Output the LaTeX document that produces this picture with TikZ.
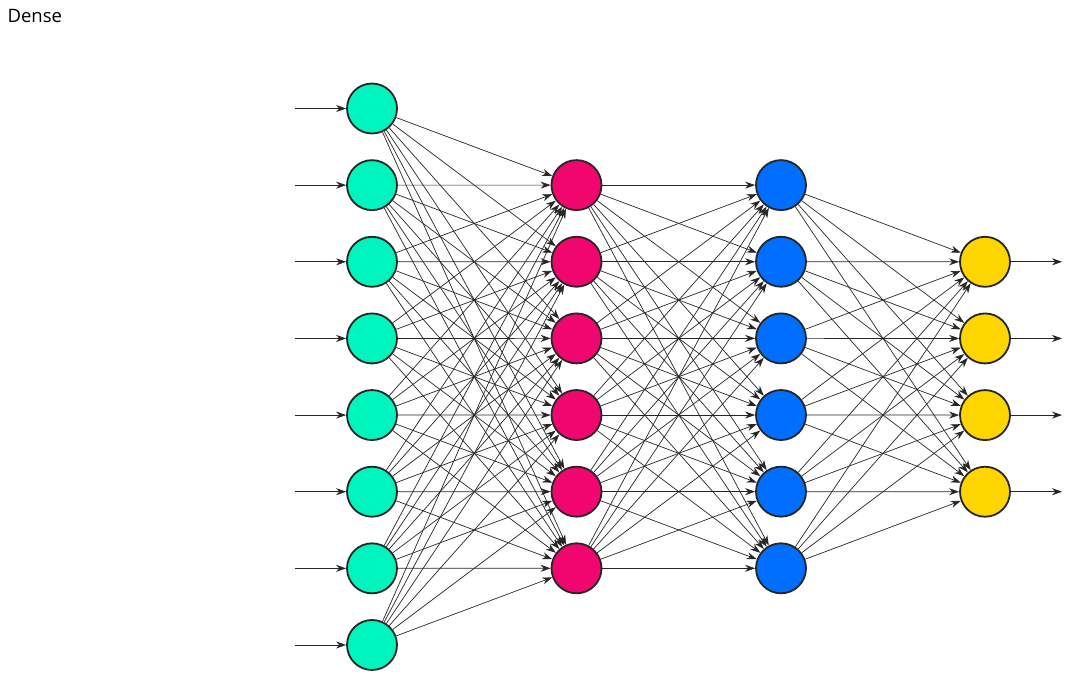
\documentclass[tikz,border=0pt]{standalone}
\usepackage{fontspec}
\setmainfont{Open Sans}
\usepackage{xcolor}
\usetikzlibrary{arrows.meta}

\definecolor{inputc}{HTML}{00F5BE}
\definecolor{hidac}{HTML}{F0066E}
\definecolor{hidbc}{HTML}{006EFF}
\definecolor{outc}{HTML}{FFD500}

\begin{document}
\begin{tikzpicture}[
  x=1pt, y=-1pt,
  n/.style={circle, draw=black!85, line width=1.8pt, minimum size=50pt, inner sep=0pt},
  arr/.style={-{Stealth[length=10pt,width=7pt]}, line width=0.7pt, black!85}
]
\useasboundingbox (0,0) rectangle (1081,678);
\node[anchor=base west, font=\fontsize{18.5}{20}\selectfont] (title) at (4,22) {Dense};

% layers
\foreach \k in {1,...,8}
  \node[n, fill=inputc] (i\k) at (372,{108.5+76.64*(\k-1)}) {};
\foreach \k in {1,...,6}
  \node[n, fill=hidac] (a\k) at (576.5,{185.1+76.64*(\k-1)}) {};
\foreach \k in {1,...,6}
  \node[n, fill=hidbc] (b\k) at (781,{185.1+76.64*(\k-1)}) {};
\foreach \k in {1,...,4}
  \node[n, fill=outc] (o\k) at (985,{261.8+76.64*(\k-1)}) {};

% in / out arrows
\foreach \k in {1,...,8}{
  \coordinate (s\k) at (295,{108.5+76.64*(\k-1)});
  \draw[arr] (s\k) -- (i\k);
}
\foreach \k in {1,...,4}{
  \coordinate (e\k) at (1062,{261.8+76.64*(\k-1)});
  \draw[arr] (o\k) -- (e\k);
}

% dense connections
\foreach \p in {1,...,8}
  \foreach \q in {1,...,6}
    \draw[arr] (i\p) -- (a\q);
\foreach \p in {1,...,6}
  \foreach \q in {1,...,6}
    \draw[arr] (a\p) -- (b\q);
\foreach \p in {1,...,6}
  \foreach \q in {1,...,4}
    \draw[arr] (b\p) -- (o\q);
\end{tikzpicture}
\end{document}
